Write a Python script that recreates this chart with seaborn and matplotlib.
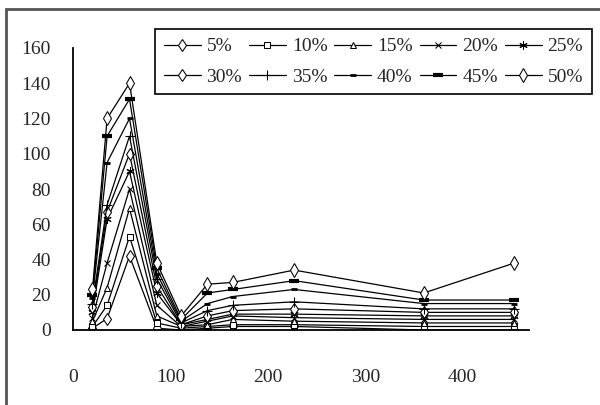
import numpy as np
import matplotlib
matplotlib.use('Agg')
import matplotlib.pyplot as plt
import seaborn as sns
from matplotlib.patches import Rectangle

# data
x = [20, 35, 58, 86, 111, 138, 164, 227, 360, 453]
labels = ['5%', '10%', '15%', '20%', '25%', '30%', '35%', '40%', '45%', '50%']
y5 = [1, 6.5, 42, 1, 0, 1, 2, 2, 0, 0]
y10 = [2, 14, 53, 4, 1, 2, 3, 3, 2, 2]
y15 = [5, 24, 69, 8, 2, 3, 6, 5, 4, 4]
y20 = [7, 38, 80, 14, 2, 5, 8, 7, 6, 6]
y25 = [10, 63, 90, 21, 3, 6, 9, 9, 8, 8]
y30 = [13, 67, 100, 25, 3, 8, 11, 12, 10, 10]
y35 = [15, 71, 110, 29, 4, 11, 14, 16, 12, 12]
y40 = [18, 95, 120, 32, 5, 15, 19, 23, 15, 15]
y45 = [20, 110, 131, 35, 6, 21, 23, 28, 17, 17]
y50 = [23, 120, 140, 38, 8, 26, 27, 34, 21, 38]
series = [y5, y10, y15, y20, y25, y30, y35, y40, y45, y50]

yticks = [0, 20, 40, 60, 80, 100, 120, 140, 160]
xticks = [0, 100, 200, 300, 400]

# marker style per series
styles = [
    dict(marker='d', ms=6, mfc='white'),
    dict(marker='s', ms=5, mfc='white'),
    dict(marker='^', ms=5, mfc='white'),
    dict(marker='x', ms=5),
    dict(marker=(6, 2, 0), ms=6),
    dict(marker='d', ms=6, mfc='white'),
    dict(marker='+', ms=7),
    dict(marker='_', ms=5, mew=2),
    dict(marker='_', ms=7, mew=3),
    dict(marker='d', ms=7, mfc='white'),
]

sns.set_style('white')
plt.rcParams['font.family'] = ['Liberation Serif', 'DejaVu Sans']

fig = plt.figure(figsize=(6, 4.05), dpi=100)
ax = fig.add_axes([73 / 600, 1 - 330 / 405, 456 / 600, 282 / 405])

for ys, lab, st in zip(series, labels, styles):
    sns.lineplot(x=x, y=ys, ax=ax, color='black', lw=0.9, label=lab,
                 mec='black', **st)

ax.set_xlim(0, 468)
ax.set_ylim(0, 160)
ax.set_xticks(xticks)
ax.set_yticks(yticks)
ax.tick_params(axis='both', direction='in', length=6, width=1.2,
               labelsize=14, color='black')
ax.tick_params(axis='y', pad=16)
ax.tick_params(axis='x', pad=28, length=4)
for s in ['top', 'right']:
    ax.spines[s].set_visible(False)
for s in ['left', 'bottom']:
    ax.spines[s].set_color('black')
    ax.spines[s].set_linewidth(1.3)
ax.set_xlabel('')
ax.set_ylabel('')

# legend: 2 rows x 5 columns, filled row by row
h, l = ax.get_legend_handles_labels()
order = [0, 5, 1, 6, 2, 7, 3, 8, 4, 9]
ax.legend([h[i] for i in order], [l[i] for i in order], ncol=5,
          loc='upper left', bbox_to_anchor=(155 / 600, 1 - 29 / 405),
          bbox_transform=fig.transFigure, fontsize=14, frameon=True,
          fancybox=False, edgecolor='black', framealpha=1,
          handlelength=1.9, handletextpad=0.3, columnspacing=0.35,
          borderpad=0.45, labelspacing=0.65, borderaxespad=0)
ax.get_legend().get_frame().set_linewidth(1.2)

# outer chart border
fig.patches.append(Rectangle((6 / 600, -0.1), 1.2, 1 - 9 / 405 + 0.1,
                             transform=fig.transFigure, fill=False,
                             edgecolor='#555555', lw=2))

fig.savefig('out.png', dpi=100)
